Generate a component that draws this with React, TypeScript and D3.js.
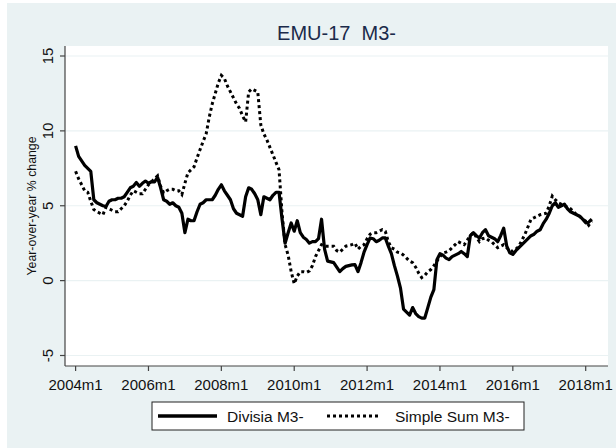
import React from "react";
import * as d3 from "d3";

const startYear = 2004;
const xTickMonths = [0, 24, 48, 72, 96, 120, 144, 168];
const yTicks = [-5, 0, 5, 10, 15];
const seriesNames = ["Divisia M3-", "Simple Sum M3-"];

const divisia = [
  9.0, 8.3, 8.0, 7.7, 7.5, 7.3, 5.4, 5.2, 5.1, 5.0, 4.95, 5.3,
  5.4, 5.4, 5.5, 5.5, 5.6, 5.9, 6.2, 6.3, 6.55, 6.3, 6.5, 6.65,
  6.5, 6.6, 6.6, 6.9, 6.2, 5.4, 5.3, 5.1, 5.2, 5.0, 4.9, 4.5,
  3.2, 4.1, 4.0, 4.0, 4.6, 5.1, 5.2, 5.4, 5.4, 5.4, 5.7, 6.1,
  6.4, 6.0, 5.7, 5.4, 4.8, 4.5, 4.4, 4.3, 5.6, 6.2, 6.1, 5.8,
  5.4, 4.4, 5.6, 5.5, 5.4, 5.7, 5.9, 5.9, 4.1, 2.5, 3.2, 3.85,
  3.3, 4.0, 3.2, 2.9, 2.75, 2.5, 2.6, 2.6, 2.8, 4.1, 2.1, 1.3,
  1.25, 1.2, 0.9, 0.6, 0.8, 0.95, 1.0, 1.05, 1.07, 0.6, 1.2, 1.9,
  2.4, 2.85, 2.8, 2.6, 2.7, 2.85, 2.85, 2.3, 1.8, 1.0, 0.3, -0.5,
  -1.9, -2.1, -2.3, -1.8, -2.2, -2.4, -2.5, -2.5, -1.8, -1.1, -0.6, 1.4,
  1.8, 1.7, 1.5, 1.4, 1.6, 1.7, 1.8, 1.95, 1.8, 1.6, 3.0, 3.2,
  3.0, 2.85, 3.2, 3.4, 3.0, 2.9, 2.8, 2.6, 3.0, 3.5, 2.3, 1.85,
  1.75, 2.0, 2.2, 2.4, 2.6, 2.8, 3.0, 3.1, 3.3, 3.4, 3.8, 4.1,
  4.5, 5.0, 5.2, 4.9, 5.0, 5.1, 4.8, 4.6, 4.5, 4.4, 4.3, 4.1,
  3.86, 3.9, 4.1,
];

const simpleSum = [
  7.3, 6.8, 6.4, 6.0, 5.9, 5.3, 4.75, 4.6, 4.5, 4.4, 4.9, 4.8,
  4.7, 4.6, 4.6, 4.8, 5.0, 5.3, 5.7, 6.0, 5.9, 5.8, 5.8, 6.1,
  6.4, 6.6, 6.8, 7.0, 6.3, 5.85, 6.0, 6.1, 6.1, 6.0, 6.0, 5.75,
  6.5, 7.2, 7.4, 7.6, 8.2, 8.75, 9.3, 9.8, 10.9, 11.8, 12.5, 13.2,
  13.7, 13.5, 13.0, 12.6, 12.2, 11.8, 11.5, 11.0, 10.6, 12.6, 12.8, 12.7,
  12.6, 10.4, 9.8, 9.4, 8.9, 8.4, 7.9, 7.4, 4.5, 2.4, 1.7, 0.6,
  -0.2, 0.3, 0.6, 0.6, 0.55, 0.65, 1.0, 1.6, 2.0, 2.4, 2.3, 2.3,
  2.3, 2.3, 2.0, 1.9, 2.1, 2.3, 2.35, 2.4, 2.5, 2.1, 2.3, 2.4,
  2.8, 3.1, 3.2, 3.2, 3.3, 3.4, 3.3, 2.6, 2.2, 2.1, 1.9, 1.85,
  1.7, 1.5, 1.3, 1.2, 0.9, 0.5, 0.2, 0.35, 0.6, 0.74, 1.0, 1.3,
  1.6, 1.85, 1.9, 2.0, 2.2, 2.4, 2.6, 2.5, 2.4, 2.7, 3.0, 3.2,
  2.9, 2.6, 2.8, 2.85, 2.7, 2.6, 2.4, 2.2, 2.3, 2.4, 2.2, 2.0,
  1.96, 2.1, 2.3, 2.7, 3.1, 3.6, 4.1, 4.2, 4.3, 4.4, 4.45, 4.5,
  5.0, 5.64, 5.4, 5.2, 5.1, 5.0, 4.9, 4.8, 4.6, 4.4, 4.3, 4.1,
  3.97, 3.7, 3.97,
];

const W = 616;
const H = 448;
const plot = { left: 65, right: 608, top: 46, bottom: 366 };
const BG = "#EAF2F3";
const FONT = "'Liberation Sans', Arial, Helvetica, sans-serif";

export default function App() {
  const x = d3.scaleLinear().domain([0, 168]).range([75.6, 585.7]);
  const y = d3.scaleLinear().domain([-5, 15]).range([355.5, 56]);
  const line = d3
    .line<number>()
    .x((_, i) => x(i))
    .y((d) => y(d));

  const legendY = 416;
  return (
    <div style={{ position: "absolute", left: 0, top: 0 }}>
      <svg width={W} height={H} style={{ display: "block" }} fontFamily={FONT}>
        <rect x={0} y={0} width={W} height={H} fill="#ffffff" />
        <rect x={7} y={3} width={W - 7} height={H - 3} fill={BG} />
        <rect
          x={plot.left}
          y={plot.top}
          width={plot.right - plot.left}
          height={plot.bottom - plot.top}
          fill="#ffffff"
        />
        {yTicks.map((t) => (
          <line
            key={"g" + t}
            x1={plot.left}
            x2={plot.right}
            y1={y(t)}
            y2={y(t)}
            stroke={BG}
            strokeWidth={1.2}
          />
        ))}
        <text
          x={(plot.left + plot.right) / 2}
          y={40}
          textAnchor="middle"
          fontSize={20}
          fill="#1a2a4a"
          style={{ whiteSpace: "pre" }}
        >
          {"EMU-17  M3-"}
        </text>
        {/* axes */}
        <line x1={plot.left} x2={plot.left} y1={plot.top} y2={plot.bottom} stroke="#444" strokeWidth={1.2} />
        <line x1={plot.left} x2={plot.right} y1={plot.bottom} y2={plot.bottom} stroke="#444" strokeWidth={1.2} />
        {yTicks.map((t) => (
          <g key={"y" + t}>
            <line x1={plot.left - 5} x2={plot.left} y1={y(t)} y2={y(t)} stroke="#444" strokeWidth={1.2} />
            <text
              transform={`translate(53,${y(t)}) rotate(-90)`}
              textAnchor="middle"
              fontSize={15}
              fill="#111"
            >
              {t}
            </text>
          </g>
        ))}
        <text
          transform={`translate(36,${(plot.top + plot.bottom) / 2}) rotate(-90)`}
          textAnchor="middle"
          fontSize={12.3}
          fill="#111"
        >
          Year-over-year % change
        </text>
        {xTickMonths.map((m) => (
          <g key={"x" + m}>
            <line x1={x(m)} x2={x(m)} y1={plot.bottom} y2={plot.bottom + 5} stroke="#444" strokeWidth={1.2} />
            <text x={x(m)} y={390} textAnchor="middle" fontSize={15} fill="#111">
              {`${startYear + m / 12}m1`}
            </text>
          </g>
        ))}
        {/* series */}
        <path d={line(simpleSum) || ""} fill="none" stroke="#000" strokeWidth={3} strokeDasharray="3 3" />
        <path d={line(divisia) || ""} fill="none" stroke="#000" strokeWidth={3.2} strokeLinejoin="round" />
        {/* legend */}
        <rect x={152} y={402} width={372} height={28} fill="#ffffff" stroke="#222" strokeWidth={1} />
        <line x1={158} x2={217} y1={legendY} y2={legendY} stroke="#000" strokeWidth={3.5} />
        <text x={227} y={422} fontSize={15.5} fill="#111">
          {seriesNames[0]}
        </text>
        <line x1={327} x2={381} y1={legendY} y2={legendY} stroke="#000" strokeWidth={3} strokeDasharray="3 3" />
        <text x={395} y={422} fontSize={15.5} fill="#111">
          {seriesNames[1]}
        </text>
      </svg>
    </div>
  );
}
